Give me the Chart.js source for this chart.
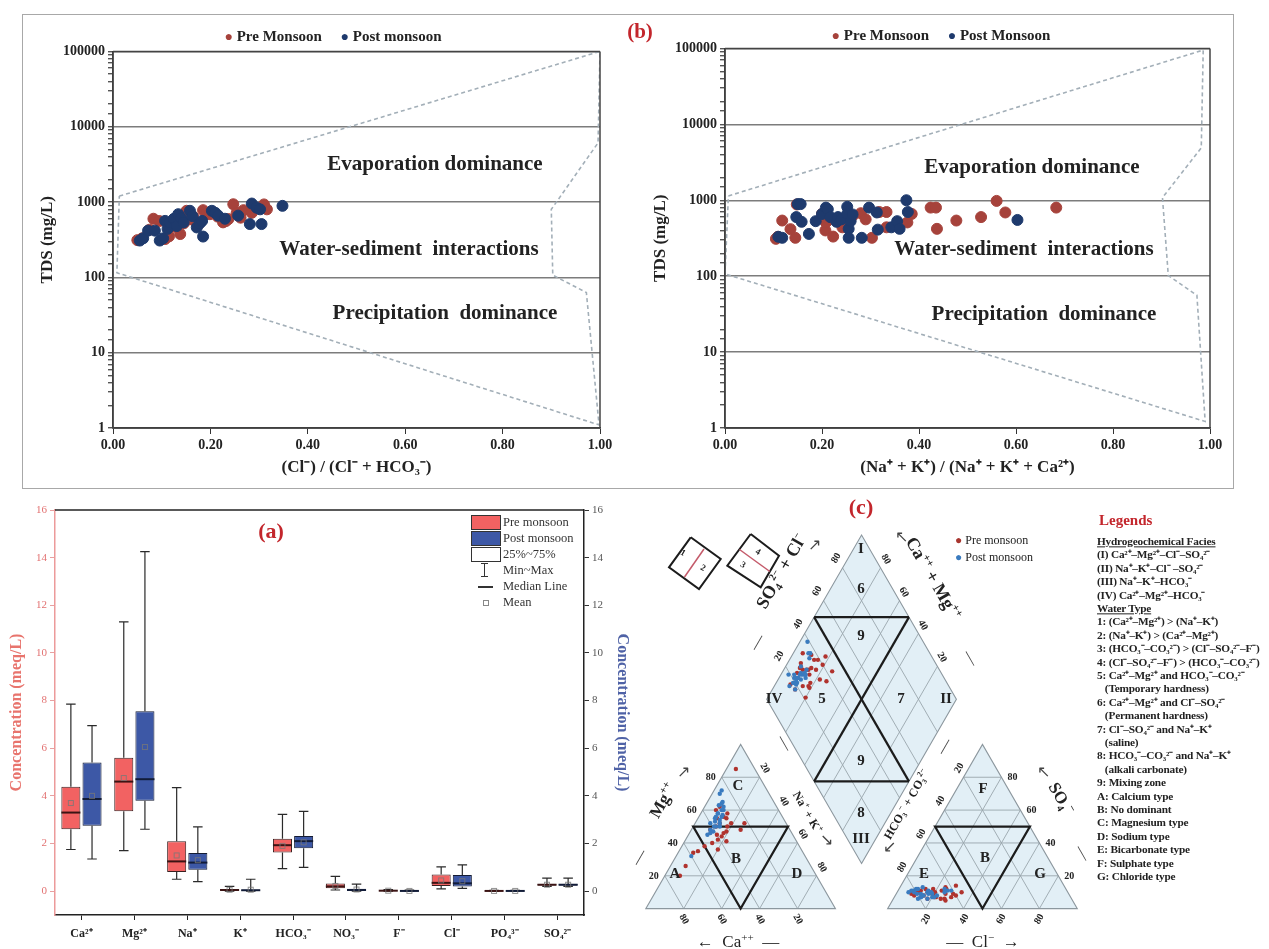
<!DOCTYPE html>
<html><head><meta charset="utf-8">
<script src="https://cdn.jsdelivr.net/npm/chart.js@4.4.1/dist/chart.umd.min.js"></script>
<style>
html,body{margin:0;padding:0;background:#fff}
#root{position:relative;width:1269px;height:949px;overflow:hidden;font-family:'Liberation Serif','Times New Roman',serif}
canvas{position:absolute}
.t{position:absolute;white-space:nowrap;font-weight:bold;color:#222;line-height:1}
.l{position:absolute;white-space:nowrap;color:#222;line-height:1;transform:translateY(-50%)}
</style></head><body><div id="root">
<div style="position:absolute;left:22px;top:14px;width:1210px;height:473px;border:1px solid #a8a8a8"></div>
<canvas id="g1" width="590" height="444" style="left:35px;top:40px"></canvas>
<canvas id="g2" width="584" height="447" style="left:648px;top:37px"></canvas>
<canvas id="bx" width="629" height="449" style="left:5px;top:500px"></canvas>
<canvas id="pp" width="465" height="459" style="left:630px;top:490px"></canvas>
</div>
<script>
// ---------- Gibbs (left): Cl/(Cl+HCO3) vs TDS ----------
const gibbsLeftPreX  = [0.050,0.060,0.075,0.083,0.095,0.107,0.115,0.125,0.138,0.145,0.151,0.158,0.165,0.168,0.175,0.185,0.192,0.199,0.205,0.215,0.226,0.232,0.237,0.247,0.254,0.262,0.268,0.285,0.310,0.316];
const gibbsLeftPreY  = [312,330,430,600,560,323,350,470,376,520,765,590,640,562,500,780,700,690,740,640,537,560,594,935,720,620,780,720,930,800];
const gibbsLeftPostX = [0.055,0.062,0.072,0.086,0.096,0.103,0.107,0.112,0.117,0.125,0.131,0.134,0.140,0.145,0.158,0.163,0.172,0.178,0.183,0.185,0.203,0.210,0.216,0.230,0.257,0.281,0.285,0.295,0.302,0.305,0.348];
const gibbsLeftPostY = [308,330,417,417,308,330,562,440,537,600,480,690,610,537,765,650,460,520,562,348,765,720,660,600,660,510,955,840,800,510,890];
const gibbsLeftBoundX = [0.013,1.0,0.996,0.900,0.903,0.972,0.998,0.008,0.013];
const gibbsLeftBoundY = [1200,100000,6100,800,107,63,1.1,115,1200];
// ---------- Gibbs (right): (Na+K)/(Na+K+Ca) vs TDS ----------
const gibbsRightPreX  = [0.105,0.109,0.118,0.135,0.145,0.148,0.200,0.207,0.208,0.215,0.223,0.242,0.250,0.255,0.263,0.280,0.290,0.303,0.318,0.333,0.333,0.376,0.385,0.424,0.435,0.437,0.477,0.528,0.560,0.578,0.683];
const gibbsRightPreY  = [310,330,540,416,320,880,660,400,510,560,332,440,560,520,620,675,560,320,700,700,440,510,660,800,800,420,540,600,980,690,800];
const gibbsRightPostX = [0.110,0.118,0.147,0.150,0.156,0.158,0.173,0.187,0.200,0.208,0.212,0.217,0.230,0.233,0.240,0.252,0.252,0.255,0.255,0.259,0.263,0.282,0.297,0.313,0.315,0.343,0.355,0.360,0.374,0.377,0.603];
const gibbsRightPostY = [330,320,600,890,890,520,360,530,660,800,760,600,520,600,560,820,660,420,320,530,650,320,800,690,410,440,530,420,1000,700,550];
const gibbsRightBoundX = [0.007,0.986,0.982,0.902,0.914,0.973,0.990,0.000,0.007];
const gibbsRightBoundY = [1140,95000,4900,1080,102,56,1.22,107,1140];
// ---------- Box plot ----------
const boxCategories = ['Ca²⁺','Mg²⁺','Na⁺','K⁺','HCO₃⁻','NO₃⁻','F⁻','Cl⁻','PO₄³⁻','SO₄²⁻'];
const preMin  = [1.75,1.70,0.50,0.00,0.95,0.05,0.00,0.10,0.000,0.20];
const preQ1   = [2.60,3.35,0.80,0.03,1.62,0.12,0.01,0.22,0.005,0.24];
const preMed  = [3.30,4.60,1.25,0.05,1.93,0.20,0.02,0.35,0.010,0.27];
const preQ3   = [4.38,5.60,2.10,0.08,2.20,0.32,0.03,0.70,0.015,0.30];
const preMax  = [7.85,11.30,4.35,0.20,3.22,0.62,0.07,1.02,0.030,0.55];
const preMean = [3.70,4.75,1.50,0.06,1.90,0.22,0.02,0.45,0.010,0.27];
const postMin  = [1.35,2.60,0.40,0.00,1.00,0.00,0.00,0.12,0.000,0.20];
const postQ1   = [2.75,3.80,0.90,0.02,1.80,0.02,0.005,0.20,0.005,0.24];
const postMed  = [3.87,4.70,1.20,0.04,2.10,0.05,0.01,0.33,0.010,0.27];
const postQ3   = [5.40,7.55,1.60,0.06,2.32,0.10,0.02,0.68,0.015,0.30];
const postMax  = [6.95,14.25,2.70,0.50,3.35,0.30,0.05,1.10,0.030,0.55];
const postMean = [4.00,6.05,1.30,0.06,2.05,0.07,0.01,0.42,0.010,0.27];
// ---------- Piper (meq % per sample) ----------
const pipPreCa   = [42,38,35,45,30,33,40,28,36,50,55,72,10,32,38,34,29,41,37,30,22,44,35,31,66,26,58];
const pipPreMg   = [48,50,52,40,55,60,45,58,46,38,35,20,85,50,44,47,52,42,41,62,52,36,55,56,26,48,34];
const pipPreCl   = [15,20,25,18,30,22,12,28,34,10,24,19,27,16,21,32,14,26,23,18,30,11,20,25,8,29,17];
const pipPreSO4  = [8,10,6,12,9,7,11,5,10,8,13,9,6,10,7,8,12,9,11,6,7,10,8,12,9,14,10];
const pipPostCa  = [36,40,33,30,28,38,42,35,31,27,45,34,29,37,32,26,39,41,30,33,60,24,36,28,43,35];
const pipPostMg  = [55,52,58,60,62,50,48,56,57,65,45,54,60,53,56,70,50,47,63,58,32,72,50,64,46,52];
const pipPostCl  = [26,14,8,25,16,18,9,13,20,24,15,7,17,12,22,9,14,19,10,13,6,28,16,21,11,18];
const pipPostSO4 = [11,7,11,10,10,6,12,9,7,12,8,11,9,13,8,10,7,9,12,6,10,11,11,7,9,10];

const F = "'Liberation Serif', 'Times New Roman', serif";
const root = document.getElementById('root');
function T(txt, x, y, css, rot, cls){
  const d=document.createElement('div'); d.className=cls||'t'; d.innerHTML=txt;
  d.style.left=x+'px'; d.style.top=y+'px';
  d.style.transform = cls==='l' ? 'translateY(-50%)' : 'translate(-50%,-50%) rotate('+(rot||0)+'deg)';
  if(css) d.style.cssText += ';'+css;
  root.appendChild(d); return d;
}
const isDec=v=>{const l=Math.log10(v);return Math.abs(l-Math.round(l))<1e-6;};
const framePlugin={id:'frame',afterDraw(c){const o=c.options.plugins.frame; if(!o||!o.sides) return; const a=c.chartArea,ctx=c.ctx;ctx.save();ctx.strokeStyle=o.color||'#333';ctx.lineWidth=o.width||1.5;ctx.beginPath();
  if(o.sides.includes('t')){ctx.moveTo(a.left,a.top);ctx.lineTo(a.right,a.top);}
  if(o.sides.includes('r')){ctx.moveTo(a.right,a.top);ctx.lineTo(a.right,a.bottom);}
  if(o.sides.includes('l')){ctx.moveTo(a.left,a.top);ctx.lineTo(a.left,a.bottom);}
  if(o.sides.includes('b')){ctx.moveTo(a.left,a.bottom);ctx.lineTo(a.right,a.bottom);}
  ctx.stroke();ctx.restore();}};

function gibbs(id,preX,preY,postX,postY,bX,bY,xTitle,yw,rp){
  const pts=(xs,ys)=>xs.map((v,i)=>({x:v,y:ys[i]}));
  return new Chart(document.getElementById(id),{type:'scatter',data:{datasets:[
    {label:'Post',data:pts(postX,postY),backgroundColor:'#1e3a6d',borderColor:'#1e3a6d',pointRadius:5.5,order:1},
    {label:'Pre',data:pts(preX,preY),backgroundColor:'#a6423b',borderColor:'#a6423b',pointRadius:5.5,order:2},
    {type:'line',data:pts(bX,bY),borderColor:'#a3afb8',borderWidth:1.6,borderDash:[4,3],pointRadius:0,fill:false,tension:0,order:3}
  ]},options:{responsive:false,animation:false,events:[],layout:{padding:{top:10,right:rp,left:0,bottom:0}},
    plugins:{legend:{display:false},tooltip:{enabled:false},frame:{sides:'trlb',color:'#444',width:1.5}},
    scales:{
      x:{type:'linear',min:0,max:1,afterFit:s=>{s.height=56},
        ticks:{stepSize:0.2,callback:v=>Number(v).toFixed(2),font:{family:F,size:14,weight:'bold'},color:'#222',padding:3},
        grid:{drawOnChartArea:false,tickLength:6,tickColor:'#333'},border:{color:'#333',width:1.5},
        title:{display:true,text:xTitle,font:{family:F,size:17,weight:'bold'},color:'#222',padding:{top:2,bottom:6}}},
      y:{type:'logarithmic',min:1,max:100000,afterFit:s=>{s.width=yw},
        ticks:{autoSkip:false,callback:v=>isDec(v)?String(Math.round(v)):'',font:{family:F,size:14,weight:'bold'},color:'#222',padding:3},
        grid:{color:c=>isDec(c.tick.value)?'#7c7c7c':'rgba(0,0,0,0)',lineWidth:1.4,tickLength:5,tickColor:'#555'},
        border:{color:'#333',width:1.5},
        title:{display:true,text:'TDS (mg/L)',font:{family:F,size:17,weight:'bold'},color:'#222',padding:{top:2,bottom:2}}}
    }},plugins:[framePlugin]});
}
gibbs('g1',gibbsLeftPreX,gibbsLeftPreY,gibbsLeftPostX,gibbsLeftPostY,gibbsLeftBoundX,gibbsLeftBoundY,'(Cl⁻) / (Cl⁻ + HCO₃⁻)',78,25);
gibbs('g2',gibbsRightPreX,gibbsRightPreY,gibbsRightPostX,gibbsRightPostY,gibbsRightBoundX,gibbsRightBoundY,'(Na⁺ + K⁺) / (Na⁺ + K⁺ + Ca²⁺)',77,22);

const big='font-size:21px';
T('Evaporation dominance',435,163,big);
T('Water-sediment&nbsp; interactions',409,248,big);
T('Precipitation&nbsp; dominance',445,312,big);
T('Evaporation dominance',1032,166,big);
T('Water-sediment&nbsp; interactions',1024,248,big);
T('Precipitation&nbsp; dominance',1044,313,big);
T('<span style="color:#a6423b;font-size:14px">●</span> Pre Monsoon&nbsp;&nbsp;&nbsp;&nbsp; <span style="color:#1e3a6d;font-size:14px">●</span> Post monsoon',333,36,'font-size:15px');
T('<span style="color:#a6423b;font-size:14px">●</span> Pre Monsoon&nbsp;&nbsp;&nbsp;&nbsp; <span style="color:#1e3a6d;font-size:14px">●</span> Post Monsoon',941,35,'font-size:15px');
T('(b)',640,31,'font-size:21px;color:#c3262c');

// ---------- Box plot ----------
const boxPlugin={id:'boxw',afterDatasetsDraw(chart){
  const ctx=chart.ctx,y=chart.scales.y;
  const sets=[[preMin,preQ1,preMed,preQ3,preMax,preMean,'#3b1414'],[postMin,postQ1,postMed,postQ3,postMax,postMean,'#121c38']];
  sets.forEach((s,di)=>{const meta=chart.getDatasetMeta(di);
    meta.data.forEach((el,i)=>{const x=el.x,w=el.width,cw=w*0.5;ctx.save();ctx.strokeStyle='#2a2a2a';ctx.lineWidth=1.2;ctx.beginPath();
      ctx.moveTo(x,y.getPixelForValue(s[4][i]));ctx.lineTo(x,y.getPixelForValue(s[3][i]));
      ctx.moveTo(x,y.getPixelForValue(s[1][i]));ctx.lineTo(x,y.getPixelForValue(s[0][i]));
      ctx.moveTo(x-cw/2,y.getPixelForValue(s[4][i]));ctx.lineTo(x+cw/2,y.getPixelForValue(s[4][i]));
      ctx.moveTo(x-cw/2,y.getPixelForValue(s[0][i]));ctx.lineTo(x+cw/2,y.getPixelForValue(s[0][i]));
      ctx.stroke();
      ctx.strokeStyle=s[6];ctx.lineWidth=2;ctx.beginPath();
      ctx.moveTo(x-w/2,y.getPixelForValue(s[2][i]));ctx.lineTo(x+w/2,y.getPixelForValue(s[2][i]));ctx.stroke();
      const my=y.getPixelForValue(s[5][i]);ctx.strokeStyle='rgba(120,120,120,0.8)';ctx.lineWidth=1;ctx.strokeRect(x-2.5,my-2.5,5,5);
      ctx.restore();});});
}};
new Chart(document.getElementById('bx'),{type:'bar',data:{labels:boxCategories,datasets:[
  {label:'Pre monsoon',data:preQ1.map((q,i)=>[q,preQ3[i]]),backgroundColor:'#f26262',borderColor:'#3a2020',borderWidth:1,borderSkipped:false,categoryPercentage:0.8,barPercentage:0.9},
  {label:'Post monsoon',data:postQ1.map((q,i)=>[q,postQ3[i]]),backgroundColor:'#3d58a6',borderColor:'#141c34',borderWidth:1,borderSkipped:false,categoryPercentage:0.8,barPercentage:0.9}
]},options:{responsive:false,animation:false,events:[],layout:{padding:{top:10,right:0,left:0,bottom:0}},
  plugins:{legend:{display:false},tooltip:{enabled:false},frame:{sides:'t',color:'#222',width:1.5}},
  scales:{
    x:{afterFit:s=>{s.height=34},grid:{offset:false,drawOnChartArea:false,tickLength:5,tickColor:'#222'},border:{color:'#222',width:1.5},
       ticks:{font:{family:F,size:12,weight:'bold'},color:'#222',padding:7}},
    y:{position:'left',min:-1,max:16,afterFit:s=>{s.width=50},
       ticks:{stepSize:2,includeBounds:false,color:'#e27272',font:{family:F,size:11}},
       grid:{drawOnChartArea:false,tickColor:'#e8a0a0',tickLength:5},border:{color:'#ec9a9a',width:1.5},
       title:{display:true,text:'Concentration (meq/L)',color:'#e8746d',font:{family:F,size:16,weight:'bold'},padding:{top:2,bottom:2}}},
    y2:{position:'right',min:-1,max:16,afterFit:s=>{s.width=50},
       ticks:{stepSize:2,includeBounds:false,color:'#555',font:{family:F,size:11}},
       grid:{drawOnChartArea:false,tickColor:'#333',tickLength:5},border:{color:'#222',width:1.5},
       title:{display:true,text:'Concentration (meq/L)',color:'#4f62a6',font:{family:F,size:16,weight:'bold'},padding:{top:2,bottom:2}}}
  }},plugins:[boxPlugin,framePlugin]});
T('(a)',271,531,'font-size:22px;color:#c3262c');
// box legend
const lg=(css)=>{const d=document.createElement('div');d.style.cssText='position:absolute;'+css;root.appendChild(d);};
lg('left:471px;top:515px;width:28px;height:13px;background:#f26262;border:1px solid #333');
lg('left:471px;top:531px;width:28px;height:13px;background:#3d58a6;border:1px solid #333');
lg('left:471px;top:547px;width:28px;height:13px;background:#fff;border:1px solid #333');
lg('left:484px;top:563px;width:1px;height:14px;background:#333');
lg('left:481px;top:563px;width:7px;height:1px;background:#333');
lg('left:481px;top:576px;width:7px;height:1px;background:#333');
lg('left:478px;top:586px;width:15px;height:1.5px;background:#333');
lg('left:483px;top:600px;width:4px;height:4px;border:1px solid #888');
[['Pre monsoon',522],['Post monsoon',538],['25%~75%',554],['Min~Max',570],['Median Line',586],['Mean',602]].forEach(r=>T(r[0],503,r[1],'font-size:12.5px;color:#333;font-weight:normal',0,'l'));

// ---------- Piper diagram ----------
const H=Math.sqrt(3)/2, GAP=27.5, OX2=100+GAP, K=1.93;
const Db=[100+GAP/2,GAP*H], Dl=[Db[0]-50,Db[1]+100*H], Dt=[Db[0],Db[1]+200*H], Dr=[Db[0]+50,Db[1]+100*H];
const dia=(nak,sc)=>[Dl[0]+nak*0.5+sc*0.5, Dl[1]-nak*H+sc*H];
function piperPts(Ca,Mg,Cl,SO4){const out=[];Ca.forEach((ca,i)=>{const mg=Mg[i],nak=100-ca-mg,cl=Cl[i],so=SO4[i];
  out.push({x:nak+mg*0.5,y:mg*H});
  out.push({x:OX2+cl+so*0.5,y:so*H});
  const d=dia(nak,cl+so);out.push({x:d[0],y:d[1]});});return out;}
const XMIN=(630-642)/K, XMAX=XMIN+465/K, YMAX=(912-490)/K, YMIN=YMAX-459/K;
const piperFrame={id:'piperFrame',beforeDatasetsDraw(chart){
  const ctx=chart.ctx,sx=chart.scales.x,sy=chart.scales.y,X=u=>sx.getPixelForValue(u),Y=v=>sy.getPixelForValue(v);
  const grid='#9aa6ad', fillc='#e2eff6';
  const poly=(pts,fill,stroke,lw)=>{ctx.beginPath();pts.forEach((p,i)=>i?ctx.lineTo(X(p[0]),Y(p[1])):ctx.moveTo(X(p[0]),Y(p[1])));ctx.closePath();
    if(fill){ctx.fillStyle=fill;ctx.fill();} if(stroke){ctx.strokeStyle=stroke;ctx.lineWidth=lw;ctx.stroke();}};
  const seg=(a,b,c,lw)=>{ctx.beginPath();ctx.moveTo(X(a[0]),Y(a[1]));ctx.lineTo(X(b[0]),Y(b[1]));ctx.strokeStyle=c;ctx.lineWidth=lw;ctx.stroke();};
  ctx.save();
  [0,OX2].forEach(o=>{const A=[o,0],B=[o+100,0],C=[o+50,100*H];poly([A,B,C],fillc,null);
    [20,40,60,80].forEach(k=>{seg([o+k*0.5,k*H],[o+100-k*0.5,k*H],grid,0.9);seg([o+k,0],[o+k+(100-k)*0.5,(100-k)*H],grid,0.9);seg([o+k,0],[o+k*0.5,k*H],grid,0.9);});
    poly([A,B,C],null,'#8c979e',1.1);
    poly([[o+25,50*H],[o+75,50*H],[o+50,0]],null,'#1c1c1c',2.2);});
  poly([Db,Dr,Dt,Dl],fillc,null);
  [20,40,60,80].forEach(k=>{seg(dia(k,0),dia(k,100),grid,0.9);seg(dia(0,k),dia(100,k),grid,0.9);});
  poly([Db,Dr,Dt,Dl],null,'#8c979e',1.1);
  seg(dia(0,50),dia(100,50),'#1c1c1c',2.2);seg(dia(50,0),dia(50,100),'#1c1c1c',2.2);
  seg(dia(0,50),dia(50,100),'#1c1c1c',2.2);seg(dia(50,0),dia(100,50),'#1c1c1c',2.2);
  // key diamonds
  const a=chart.chartArea;const pl=(pts,c,lw)=>{ctx.beginPath();pts.forEach((p,i)=>i?ctx.lineTo(a.left+p[0],a.top+p[1]):ctx.moveTo(a.left+p[0],a.top+p[1]));ctx.strokeStyle=c;ctx.lineWidth=lw;ctx.stroke();};
  pl([[56.7,43.3],[86.7,65],[65,95],[35,73.3],[56.7,43.3]],'#1c1c1c',2);
  pl([[70,55],[50.5,83]],'#c45a6a',1.5);
  pl([[116.7,40],[145,61.7],[126.7,93.3],[93.3,71.7],[116.7,40]],'#1c1c1c',2);
  pl([[105.5,55.5],[135.8,77.5]],'#c45a6a',1.5);
  ctx.restore();}};
const pp=new Chart(document.getElementById('pp'),{type:'scatter',data:{datasets:[
  {data:piperPts(pipPostCa,pipPostMg,pipPostCl,pipPostSO4),backgroundColor:'#3a7bbf',borderWidth:0,pointRadius:2.2},
  {data:piperPts(pipPreCa,pipPreMg,pipPreCl,pipPreSO4),backgroundColor:'#b0332e',borderWidth:0,pointRadius:2.2}
]},options:{responsive:false,animation:false,events:[],layout:{padding:0},plugins:{legend:{display:false},tooltip:{enabled:false}},
  scales:{x:{type:'linear',display:false,min:XMIN,max:XMAX},y:{type:'linear',display:false,min:YMIN,max:YMAX}}},plugins:[piperFrame]});
const PX=u=>630+pp.scales.x.getPixelForValue(u), PY=v=>490+pp.scales.y.getPixelForValue(v);
const ts='font-size:10px';
[20,40,60,80].forEach(k=>{
  T(k,PX(k*0.5)-11,PY(k*H),ts,0);
  T(k,PX(50+k*0.5)+5,PY((100-k)*H)-9,ts,60);
  T(k,PX(100-k),PY(0)+10,ts,60);
  T(k,PX(OX2+k),PY(0)+10,ts,-60);
  T(k,PX(OX2+100-k*0.5)+11,PY(k*H),ts,0);
  T(k,PX(OX2+50-k*0.5)-5,PY((100-k)*H)-9,ts,-60);
  const p=dia(0,k);T(k,PX(p[0])-7,PY(p[1])-10,ts,-60);
  const q=dia(100-k,100);T(k,PX(q[0])+5,PY(q[1])-9,ts,60);
});
const zs='font-size:15px';
[['I',861,548],['6',861,588],['9',861,635],['IV',774,698],['5',822,698],['7',901,698],['II',946,698],['9',861,760],['8',861,812],['III',861,838],
 ['C',738,785],['B',736,858],['A',675,873],['D',797,873],['F',983,788],['B',985,857],['E',924,873],['G',1040,873]].forEach(z=>T(z[0],z[1],z[2],zs,0));
T('(c)',861,507,'font-size:22px;color:#c3262c');
T('1',683,553,'font-size:9px',30);T('2',703,568,'font-size:9px',30);T('4',758,552,'font-size:9px',30);T('3',743,565,'font-size:9px',30);
T('SO₄<sup style="font-size:10px">2−</sup> + Cl<sup style="font-size:10px">−</sup>',781,571,'font-size:18px',-60);
T('Ca<sup style="font-size:11px">++</sup> + Mg<sup style="font-size:11px">++</sup>',934,578,'font-size:18px',60);
T('Na<sup style="font-size:8px">+</sup> + K<sup style="font-size:8px">+</sup>',808,812,'font-size:12px',60);
T('HCO₃<sup style="font-size:8px">−</sup> + CO₃<sup style="font-size:8px">2−</sup>',906,804,'font-size:12px',-60);
T('Mg<sup style="font-size:11px">++</sup>',662,800,'font-size:17px',-60);
T('SO₄<sup style="font-size:11px">−</sup>',1062,798,'font-size:17px',60);
T('←&nbsp; Ca<sup style="font-size:11px">++</sup>&nbsp; —',738,941,'font-size:17px;font-weight:normal');
T('—&nbsp; Cl<sup style="font-size:11px">−</sup>&nbsp; →',983,941,'font-size:17px;font-weight:normal');
const ar='font-size:16px;font-weight:normal;color:#444';
T('↗',814,545,ar);T('↖',901,537,ar);T('↘',826,840,ar);T('↙',889,847,ar);T('↗',683,772,ar);T('↖',1043,772,ar);
T('—',757,642,ar,-60);T('—',971,658,ar,60);T('—',785,743,ar,60);T('—',944,746,ar,-60);T('—',639,857,ar,-60);T('—',1083,853,ar,60);
T('<span style="color:#a8352e">●</span> Pre monsoon',955,540,'font-size:12px',0,'l');
T('<span style="color:#3a7bbf">●</span> Post monsoon',955,557,'font-size:12px',0,'l');
// legends block
T('Legends',1099,520,'font-size:15px;color:#c3262c;font-weight:bold',0,'l');
const legendLines=['<u>Hydrogeochemical Facies</u>','(I) Ca²⁺–Mg²⁺–Cl⁻–SO₄²⁻','(II) Na⁺–K⁺–Cl⁻ –SO₄²⁻','(III) Na⁺–K⁺–HCO₃⁻','(IV) Ca²⁺–Mg²⁺–HCO₃⁻','<u>Water Type</u>',
 '1: (Ca²⁺–Mg²⁺) &gt; (Na⁺–K⁺)','2: (Na⁺–K⁺) &gt; (Ca²⁺–Mg²⁺)','3: (HCO₃⁻–CO₃²⁻) &gt; (Cl⁻–SO₄²⁻–F⁻)','4: (Cl⁻–SO₄²⁻–F⁻) &gt; (HCO₃⁻–CO₃²⁻)',
 '5: Ca²⁺–Mg²⁺ and HCO₃⁻–CO₃²⁻','&nbsp;&nbsp;&nbsp;(Temporary hardness)','6: Ca²⁺–Mg²⁺ and Cl⁻–SO₄²⁻','&nbsp;&nbsp;&nbsp;(Permanent hardness)',
 '7: Cl⁻–SO₄²⁻ and Na⁺–K⁺','&nbsp;&nbsp;&nbsp;(saline)','8: HCO₃⁻–CO₃²⁻ and Na⁺–K⁺','&nbsp;&nbsp;&nbsp;(alkali carbonate)','9: Mixing zone',
 'A: Calcium type','B: No dominant','C: Magnesium type','D: Sodium type','E: Bicarbonate type','F: Sulphate type','G: Chloride type'];
legendLines.forEach((s,i)=>T(s,1097,542+i*13.4,'font-size:11.3px;font-weight:bold;letter-spacing:-0.2px',0,'l'));
</script></body></html>
